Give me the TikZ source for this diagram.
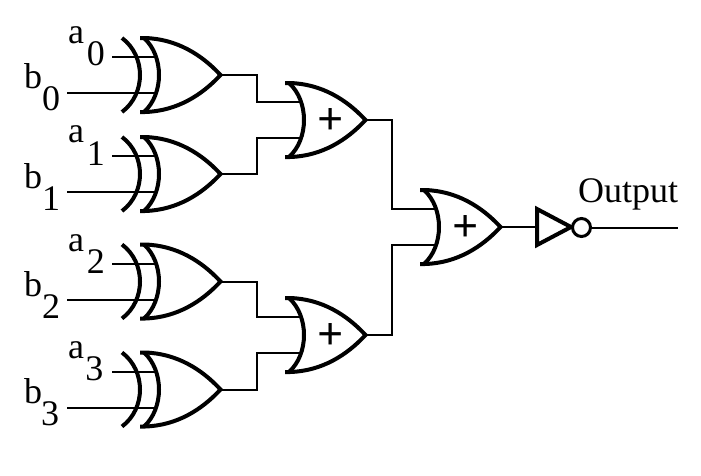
\documentclass[tikz,border=0pt]{standalone}
\usepackage{fontspec}
\setmainfont{Liberation Serif}
\begin{document}
\begin{tikzpicture}[x=1pt,y=-1pt,
  wire/.style={line width=2pt,line cap=butt},
  gateline/.style={line width=4pt,line join=miter,line cap=butt},
  lab/.style={anchor=base west,inner sep=0pt,outer sep=0pt,font=\fontsize{36}{40}\selectfont},
  orbody/.pic={
    \draw[gateline] (-1,-37) -- (4,-37) .. controls (36,-36) and (61,-20) .. (79.5,0)
       .. controls (61,20) and (36,36) .. (4,37) -- (-1,37);
    \draw[gateline] (3,-37) .. controls (13,-28) and (18,-14) .. (18,0)
       .. controls (18,14) and (13,28) .. (3,37);
  },
  xorgate/.pic={
    \pic (b) at (0,0) {orbody};
    \draw[gateline] (-19,-37) .. controls (-7,-28) and (-1,-14) .. (-1,0)
       .. controls (-1,14) and (-7,28) .. (-19,37);
    \coordinate (-out) at (79,0);
    \coordinate (-a) at (15,-18);
    \coordinate (-b) at (15,18);
  },
  orgate/.pic={
    \pic (b) at (0,0) {orbody};
    \node[inner sep=0pt,font=\fontsize{46}{50}\selectfont\bfseries] (-plus) at (44.5,1.5) {+};
    \coordinate (-out) at (79,0);
    \coordinate (-a) at (15,-18);
    \coordinate (-b) at (15,18);
  }]
\useasboundingbox (0,0) rectangle (701,475);
\fill[white] (0,0) rectangle (701,475);

\pic (x0) at (141,75) {xorgate};
\pic (x1) at (141,174) {xorgate};
\pic (x2) at (141,281.5) {xorgate};
\pic (x3) at (141,389.5) {xorgate};
\pic (o0) at (286,120) {orgate};
\pic (o1) at (286,335) {orgate};
\pic (o2) at (421,227) {orgate};

\coordinate (a0s) at (112,57);  \coordinate (b0s) at (67,93);
\coordinate (a1s) at (112,156); \coordinate (b1s) at (67,192);
\coordinate (a2s) at (112,263.5); \coordinate (b2s) at (67,299.5);
\coordinate (a3s) at (112,371.5); \coordinate (b3s) at (67,407.5);
\foreach \i in {0,1,2,3} {
  \draw[wire] (a\i s) -- (x\i-a);
  \draw[wire] (b\i s) -- (x\i-b);
}

\node[lab] (la0) at (68,43)  {a\kern3pt\raisebox{-22pt}{0}};
\node[lab] (lb0) at (24,88)  {b\raisebox{-22pt}{0}};
\node[lab] (la1) at (68,142) {a\kern3pt\raisebox{-23pt}{1}};
\node[lab] (lb1) at (24,188) {b\raisebox{-22pt}{1}};
\node[lab] (la2) at (68,251) {a\kern3pt\raisebox{-22pt}{2}};
\node[lab] (lb2) at (24,296) {b\raisebox{-22pt}{2}};
\node[lab] (la3) at (68,358.5) {a\kern1.5pt\raisebox{-22pt}{3}};
\node[lab] (lb3) at (24,403) {b\kern-1pt\raisebox{-22pt}{3}};

\draw[wire] (x0-out) -- ++(37,0) |- (o0-a);
\draw[wire] (x1-out) -- ++(37,0) |- (o0-b);
\draw[wire] (x2-out) -- ++(37,0) |- (o1-a);
\draw[wire] (x3-out) -- ++(37,0) |- (o1-b);
\draw[wire] (o0-out) -- ++(27,0) |- (o2-a);
\draw[wire] (o1-out) -- ++(27,0) |- (o2-b);

\draw[gateline] (537,209) -- (571,227) -- (537,245) -- cycle;
\coordinate (invin) at (536,227);
\node[draw,circle,line width=3pt,fill=white,minimum size=18pt,inner sep=0pt] (bub) at (581.5,227.5) {};
\coordinate (outend) at (678,227.5);
\draw[wire] (o2-out) -- (invin);
\draw[wire] (bub) -- (outend);
\node[lab] (lout) at (578,202) {Output};
\end{tikzpicture}
\end{document}
